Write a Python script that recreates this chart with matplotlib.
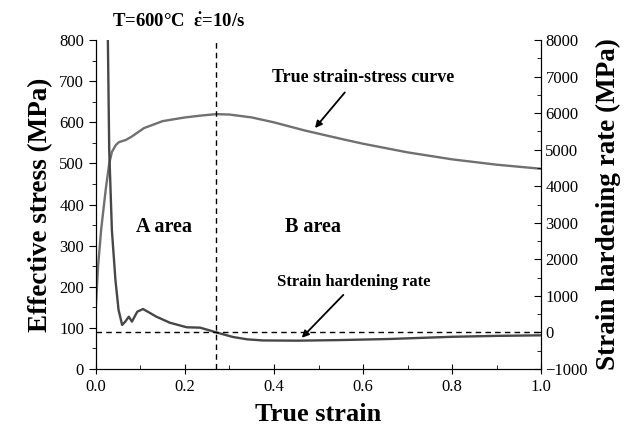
import matplotlib
matplotlib.use("Agg")
import matplotlib.pyplot as plt
from matplotlib.ticker import MultipleLocator

plt.rcParams['font.family'] = ['Liberation Serif', 'DejaVu Serif']
plt.rcParams['mathtext.fontset'] = 'custom'
plt.rcParams['mathtext.rm'] = 'Liberation Serif:bold'
plt.rcParams['mathtext.it'] = 'Liberation Serif:bold'
plt.rcParams['mathtext.bf'] = 'Liberation Serif:bold'

# True strain-stress curve
stress_strain = [0.0, 0.005, 0.012, 0.022, 0.03, 0.036, 0.045, 0.052, 0.067, 0.08,
                 0.108, 0.15, 0.2, 0.24, 0.27, 0.3, 0.35, 0.4, 0.47, 0.55, 0.6,
                 0.7, 0.8, 0.9, 1.0]
stress_values = [150, 250, 340, 435, 500, 528, 545, 552, 557, 565,
                 586, 603, 612, 617, 620, 619, 612, 600, 580, 560, 548,
                 527, 510, 497, 487]

# Strain hardening rate
hr_strain = [0.026, 0.027, 0.030, 0.036, 0.044, 0.051, 0.059, 0.066, 0.074, 0.081,
             0.093, 0.106, 0.136, 0.166, 0.204, 0.234, 0.252, 0.270, 0.308, 0.34,
             0.375, 0.452, 0.55, 0.66, 0.8, 0.9, 1.0]
hr_values = [8600, 8000, 5000, 2800, 1430, 614, 204, 294, 430, 294,
             567, 640, 430, 266, 140, 130, 67, 0, -126, -190,
             -220, -226, -210, -180, -120, -95, -80]

peak_strain = 0.27

fig = plt.figure(figsize=(6.39, 4.32), dpi=100)
ax = fig.add_axes([0.150, 0.146, 0.697, 0.761])
ax2 = ax.twinx()

ax.plot(stress_strain, stress_values, color='#707070', lw=1.7)
ax2.plot(hr_strain, hr_values, color='#474747', lw=1.7)

ax.set_xlim(0, 1.0)
ax.set_ylim(0, 800)
ax2.set_ylim(-1000, 8000)

ax.axvline(peak_strain, color='black', lw=1.0, ls=(0, (4, 3)))
ax2.axhline(0, color='black', lw=1.0, ls=(0, (4, 3)))

for a in (ax, ax2):
    a.spines['top'].set_visible(False)

ax.xaxis.set_major_locator(MultipleLocator(0.2))
ax.xaxis.set_minor_locator(MultipleLocator(0.1))
ax.yaxis.set_major_locator(MultipleLocator(100))
ax.yaxis.set_minor_locator(MultipleLocator(50))
ax2.yaxis.set_major_locator(MultipleLocator(1000))
ax2.yaxis.set_minor_locator(MultipleLocator(500))

ax.tick_params(axis='x', which='major', direction='inout', length=7, labelsize=12)
ax.tick_params(axis='x', which='minor', direction='in', length=3)
ax.tick_params(axis='y', which='major', direction='out', length=5, labelsize=12)
ax.tick_params(axis='y', which='minor', direction='out', length=3)
ax2.tick_params(axis='y', which='major', direction='in', length=5, labelsize=12, pad=3)
ax2.tick_params(axis='y', which='minor', direction='in', length=3)
ax.xaxis.set_major_formatter(matplotlib.ticker.FormatStrFormatter('%.1f'))

ax.set_xlabel('True strain', fontsize=19, fontweight='bold', labelpad=6)
ax.set_ylabel('Effective stress (MPa)', fontsize=19.5, fontweight='bold', labelpad=4)
ax2.set_ylabel('Strain hardening rate (MPa)', fontsize=19.5, fontweight='bold', labelpad=6)

fig.text(0.175, 0.949, r'T=600°C  $\dot{\varepsilon}$=10/s', fontsize=13.5,
         fontweight='bold', va='center', ha='left')

ax.text(0.154, 346, 'A area', fontsize=14.5, fontweight='bold', ha='center', va='center')
ax.text(0.487, 346, 'B area', fontsize=14.5, fontweight='bold', ha='center', va='center')

ax.text(0.60, 709, 'True strain-stress curve', fontsize=13, fontweight='bold',
        ha='center', va='center')
ax.annotate('', xy=(0.488, 581), xytext=(0.563, 678),
            arrowprops=dict(arrowstyle='-|>', color='black', lw=1.3, mutation_scale=10))

ax.text(0.578, 212, 'Strain hardening rate', fontsize=12, fontweight='bold',
        ha='center', va='center')
ax.annotate('', xy=(0.458, 71), xytext=(0.56, 185),
            arrowprops=dict(arrowstyle='-|>', color='black', lw=1.3, mutation_scale=10))

fig.savefig('out.png', dpi=100)
